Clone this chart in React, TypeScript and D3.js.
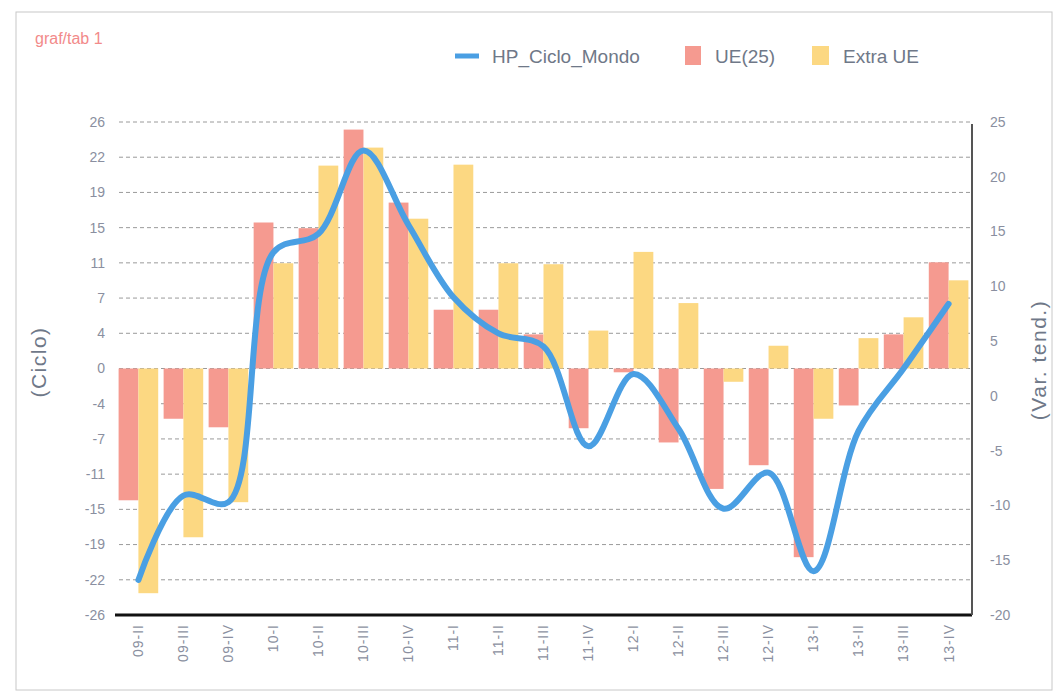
import React from "react";
import * as d3 from "d3";

const categories = ["09-II", "09-III", "09-IV", "10-I", "10-II", "10-III", "10-IV", "11-I", "11-II", "11-III", "11-IV", "12-I", "12-II", "12-III", "12-IV", "13-I", "13-II", "13-III", "13-IV"];
const ue25 = [-13.9, -5.3, -6.2, 15.4, 14.8, 25.2, 17.5, 6.2, 6.2, 3.6, -6.3, -0.4, -7.8, -12.7, -10.2, -19.9, -3.9, 3.6, 11.2];
const extraUe = [-23.7, -17.8, -14.1, 11.1, 21.4, 23.3, 15.8, 21.5, 11.1, 11.0, 4.0, 12.3, 6.9, -1.4, 2.4, -5.3, 3.2, 5.4, 9.3];
const cicloMondo = [-16.8, -9.1, -9.7, 13.1, 14.8, 22.4, 15.6, 9.0, 5.7, 4.5, -4.6, 2.0, -3.0, -10.3, -7.0, -16.0, -3.2, 2.5, 8.4];
const leftTickLabels = ["26", "22", "19", "15", "11", "7", "4", "0", "-4", "-7", "-11", "-15", "-19", "-22", "-26"];
const rightTicks = [25, 20, 15, 10, 5, 0, -5, -10, -15, -20];
const seriesNames = ["HP_Ciclo_Mondo", "UE(25)", "Extra UE"];

const W = 1059, H = 696;
const M = { left: 115, right: 972, top: 122, bottom: 615 };
const RED = "#f59a90";
const YEL = "#fcd882";
const BLUE = "#4a9fe3";
const FONT = "'Liberation Sans', Arial, sans-serif";
const TXT = "#6f7888";
const TICK = "#8a8fa0";

export default function App() {
  const x = d3.scaleBand<string>().domain(categories).range([M.left, M.right]).paddingInner(0.12).paddingOuter(0.08);
  const xs = d3.scaleBand<string>().domain(["ue", "ex"]).range([0, x.bandwidth()]);
  const yL = d3.scaleLinear().domain([-26, 26]).range([M.bottom, M.top]);
  const yR = d3.scaleLinear().domain([-20, 25]).range([M.bottom, M.top]);
  const leftVals = leftTickLabels.map((_, i) => 26 - (i * 52) / (leftTickLabels.length - 1));

  const line = d3
    .line<number>()
    .x((_, i) => (x(categories[i]) as number) + x.bandwidth() / 2)
    .y((d) => yR(d))
    .curve(d3.curveCatmullRom.alpha(0.5));

  const bar = (vals: number[], key: string, color: string) =>
    vals.map((v, i) => {
      const y0 = yL(0), y1 = yL(v);
      return (
        <rect key={key + i} x={(x(categories[i]) as number) + (xs(key) as number)} width={xs.bandwidth()}
          y={Math.min(y0, y1)} height={Math.abs(y1 - y0)} fill={color} />
      );
    });

  return (
    <svg width={W} height={H} style={{ position: "absolute", left: 0, top: 0, background: "#fff" }} fontFamily={FONT}>
      <rect x={16} y={12} width={1036} height={678} fill="none" stroke="#c8c8c8" strokeWidth={1} />
      <text x={35} y={44} fontSize={16} fill="#f28a8a">graf/tab 1</text>

      {/* legend */}
      <line x1={455} x2={479} y1={56} y2={56} stroke={BLUE} strokeWidth={5} />
      <text x={492} y={63} fontSize={19} fill={TXT}>{seriesNames[0]}</text>
      <rect x={685} y={46} width={16} height={19} fill={RED} />
      <text x={715} y={63} fontSize={19} fill={TXT}>{seriesNames[1]}</text>
      <rect x={812} y={46} width={17} height={19} fill={YEL} />
      <text x={843} y={63} fontSize={19} fill={TXT}>{seriesNames[2]}</text>

      {/* gridlines */}
      {leftVals.slice(0, -1).map((v, i) => (
        <line key={"g" + i} x1={M.left + 4} x2={M.right - 2} y1={yL(v)} y2={yL(v)} stroke="#9a9a9a" strokeWidth={1} strokeDasharray="4,3" />
      ))}

      {bar(ue25, "ue", RED)}
      {bar(extraUe, "ex", YEL)}

      <path d={line(cicloMondo) || ""} fill="none" stroke={BLUE} strokeWidth={6} strokeLinecap="round" />

      {/* axes */}
      <line x1={M.left} x2={M.right} y1={M.bottom} y2={M.bottom} stroke="#111" strokeWidth={3} />
      <line x1={M.right} x2={M.right} y1={M.top + 2} y2={M.bottom} stroke="#555" strokeWidth={2} />

      {leftVals.map((v, i) => (
        <text key={"l" + i} x={105} y={yL(v)} dy="0.35em" textAnchor="end" fontSize={14} fill={TICK}>{leftTickLabels[i]}</text>
      ))}
      {rightTicks.map((v) => (
        <text key={"r" + v} x={990} y={yR(v)} dy="0.35em" textAnchor="start" fontSize={14} fill={TICK}>{v}</text>
      ))}
      {categories.map((c) => {
        const cx = (x(c) as number) + x.bandwidth() / 2;
        return (
          <text key={"x" + c} transform={`translate(${cx},${M.bottom + 9}) rotate(-90)`} dy="0.35em" textAnchor="end" fontSize={14} letterSpacing={1} fill={TICK}>{c}</text>
        );
      })}

      <text transform="translate(46,362) rotate(-90)" textAnchor="middle" fontSize={21} letterSpacing={1.5} fill={TXT}>(Ciclo)</text>
      <text transform="translate(1046,360) rotate(-90)" textAnchor="middle" fontSize={21} letterSpacing={1.5} fill={TXT}>(Var. tend.)</text>
    </svg>
  );
}
